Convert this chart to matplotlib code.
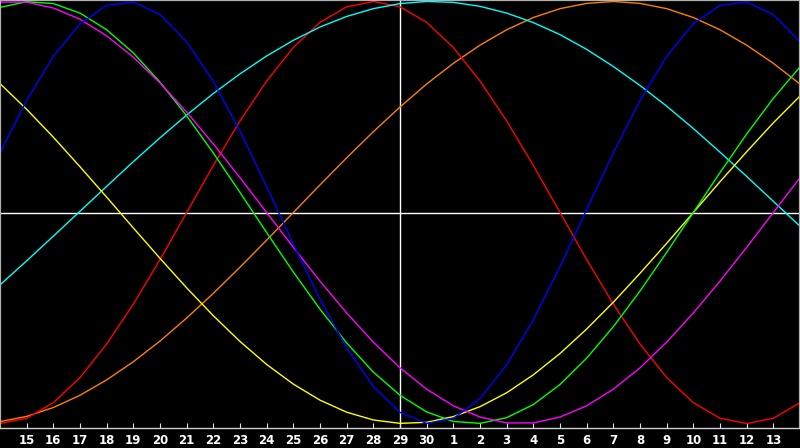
import matplotlib
matplotlib.use("Agg")
import matplotlib.pyplot as plt

# Day labels (index 1..29); index 0 = day 14, index 30 = next day 14
tick_labels = [str(d) for d in range(15, 31)] + [str(d) for d in range(1, 14)]
day_index = list(range(31))

# Cycle values (percent), read per day from the chart
physical_23 = [28.3, 53.1, 74.0, 89.4, 98.2, 99.7, 93.8, 80.9, 62.1, 38.6, 12.3,
               -15.0, -41.1, -64.1, -82.5, -94.7, -99.9, -97.6, -88.2, -72.2, -50.8,
               -25.7, 1.4, 28.3, 53.1, 74.0, 89.4, 98.2, 99.7, 93.8, 80.9]
emotional_28 = [-100.0, -97.5, -90.1, -78.2, -62.3, -43.4, -22.3, 0.0, 22.3, 43.4, 62.3,
                78.2, 90.1, 97.5, 100.0, 97.5, 90.1, 78.2, 62.3, 43.4, 22.3,
                0.0, -22.3, -43.4, -62.3, -78.2, -90.1, -97.5, -100.0, -97.5, -90.1]
intellectual_33 = [97.2, 99.9, 99.0, 94.5, 86.6, 75.6, 61.8, 45.8, 28.2, 9.5, -9.5,
                   -28.2, -45.8, -61.8, -75.6, -86.6, -94.5, -99.0, -99.9, -97.2, -91.0,
                   -81.5, -69.0, -54.1, -37.2, -18.9, 0.0, 18.9, 37.2, 54.1, 69.0]
intuitive_38 = [99.7, 99.7, 96.9, 91.6, 83.7, 73.6, 61.4, 47.6, 32.5, 16.5, 0.0,
                -16.5, -32.5, -47.6, -61.4, -73.6, -83.7, -91.6, -96.9, -99.7, -99.7,
                -96.9, -91.6, -83.7, -73.6, -61.4, -47.6, -32.5, -16.5, 0.0, 16.5]
aesthetic_43 = [61.1, 48.9, 35.7, 21.7, 7.3, -7.3, -21.7, -35.7, -48.9, -61.1, -72.0,
                -81.3, -88.9, -94.6, -98.3, -99.9, -99.4, -96.7, -92.0, -85.4, -76.9,
                -66.8, -55.2, -42.5, -28.8, -14.6, 0.0, 14.6, 28.8, 42.5, 55.2]
awareness_48 = [-99.1, -96.6, -92.4, -86.6, -79.3, -70.7, -60.9, -50.0, -38.3, -25.9, -13.1,
                0.0, 13.1, 25.9, 38.3, 50.0, 60.9, 70.7, 79.3, 86.6, 92.4,
                96.6, 99.1, 100.0, 99.1, 96.6, 92.4, 86.6, 79.3, 70.7, 60.9]
spiritual_53 = [-34.3, -22.9, -11.2, 0.6, 12.4, 24.1, 35.4, 46.2, 56.4, 65.7, 74.2,
                81.6, 87.9, 92.9, 96.6, 99.0, 100.0, 99.6, 97.7, 94.5, 90.0,
                84.3, 77.3, 69.2, 60.2, 50.4, 39.8, 28.6, 17.1, 5.3, -6.5]

series = [
    (awareness_48, "#ff8000"),
    (emotional_28, "#ff0000"),
    (spiritual_53, "#00ffff"),
    (aesthetic_43, "#ffff00"),
    (intellectual_33, "#00ff00"),
    (intuitive_38, "#ff00ff"),
    (physical_23, "#0000ff"),
]

cursor_index = 15  # day 29

fig = plt.figure(figsize=(8.0, 4.48), dpi=100, facecolor="black")
ax = fig.add_axes([0, 20 / 448, 1, 428 / 448])
ax.set_facecolor("black")

ax.axhline(0, color="white", lw=1.0, zorder=1)
ax.axvline(cursor_index, color="white", lw=1.0, zorder=1)

for vals, col in series:
    ax.plot(day_index, vals, color=col, lw=1.0, zorder=2)

ax.set_xlim(0, 30)
ax.set_ylim(-102.1, 100.7)

ax.set_xticks(day_index[1:30])
ax.set_xticklabels(tick_labels)
ax.set_yticks([])
ax.tick_params(axis="x", direction="in", length=3.6, width=0.8, color="#e0e0e0",
               labelcolor="white", labelsize=8.5, pad=4)
for lab in ax.get_xticklabels():
    lab.set_fontweight("bold")
    lab.set_family("DejaVu Sans")

for name in ["left", "top", "right"]:
    ax.spines[name].set_color("#b0b0b0")
    ax.spines[name].set_linewidth(1.6)
ax.spines["bottom"].set_color("#d0d0d0")
ax.spines["bottom"].set_linewidth(1.0)

fig.savefig("out.png", dpi=100, facecolor="black")
